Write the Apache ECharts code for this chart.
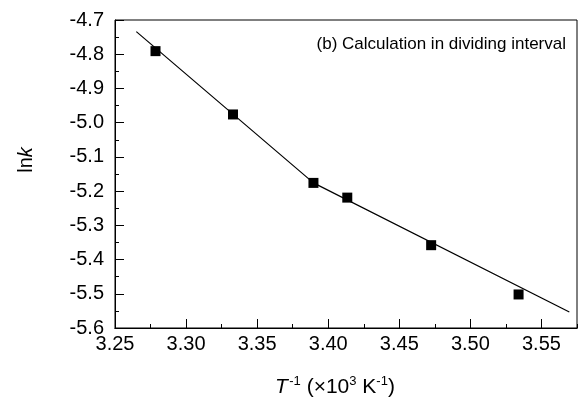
<!DOCTYPE html>
<html>
<head>
<meta charset="utf-8">
<script src="https://cdn.jsdelivr.net/npm/echarts@6/dist/echarts.min.js"></script>
<style>
  html, body { margin: 0; padding: 0; background: #fff; }
  #chart { width: 581px; height: 403px; }
</style>
</head>
<body>
<div id="chart"></div>
<script>
// measured points: 1/T (x10^3 K^-1) vs ln k
const invT = [3.2785, 3.333, 3.3896, 3.4134, 3.4724, 3.5339]
const lnK = [-4.791, -4.976, -5.176, -5.219, -5.358, -5.502]
// fitted lines in the two intervals (break at the 3rd point)
const fitX = [3.265, 3.3896, 3.5696]
const fitY = [-4.734, -5.176, -5.553]

const font = 'Liberation Sans, Arial, sans-serif'
const chart = echarts.init(document.getElementById('chart'))

const baseX = {
  type: 'value',
  min: 3.25,
  max: 3.575,
  position: 'bottom',
  axisLine: { lineStyle: { color: '#000', width: 1 } },
  splitLine: { show: false }
}

chart.setOption({
  animation: false,
  grid: {
    left: 115, right: 4, top: 20, bottom: 75,
    show: true, borderColor: '#000', borderWidth: 1
  },
  xAxis: [
    Object.assign({}, baseX, {
      interval: 0.05,
      axisTick: { inside: true, length: 9, lineStyle: { color: '#000' } },
      axisLabel: {
        color: '#000', fontFamily: font, fontSize: 20, margin: 6,
        showMaxLabel: false,
        formatter: v => v.toFixed(2)
      },
      name: '{i|T}{g| }{s|-1}{n| (×10}{s|3}{n| K}{s|-1}{n|)}',
      nameLocation: 'middle',
      nameGap: 47,
      nameTextStyle: {
        padding: [0, 22, 0, 0],
        rich: {
          i: { fontFamily: font, fontSize: 21, fontStyle: 'italic', color: '#000', lineHeight: 24 },
          n: { fontFamily: font, fontSize: 21, color: '#000', lineHeight: 24 },
          g: { fontFamily: font, fontSize: 5, lineHeight: 24 },
          s: { fontFamily: font, fontSize: 13, color: '#000', lineHeight: 14, verticalAlign: 'top' }
        }
      }
    }),
    // minor ticks only
    Object.assign({}, baseX, {
      interval: 0.025,
      axisTick: { inside: true, length: 4, lineStyle: { color: '#000' } },
      axisLabel: { show: false }
    })
  ],
  yAxis: {
    type: 'value',
    min: -5.6,
    max: -4.7,
    interval: 0.1,
    axisLine: { show: true, lineStyle: { color: '#000', width: 1 } },
    axisTick: { inside: true, length: 9, lineStyle: { color: '#000' } },
    minorTick: { show: true, splitNumber: 2, length: 4, lineStyle: { color: '#000' } },
    splitLine: { show: false },
    axisLabel: {
      color: '#000', fontFamily: font, fontSize: 20, margin: 11,
      formatter: v => v.toFixed(1)
    },
    name: '{n|ln}{i|k}',
    nameLocation: 'middle',
    nameRotate: 90,
    nameGap: 79,
    nameTextStyle: {
      padding: [0, 0, 0, 28],
      rich: {
        n: { fontFamily: font, fontSize: 20, color: '#000' },
        i: { fontFamily: font, fontSize: 20, fontStyle: 'italic', color: '#000' }
      }
    }
  },
  graphic: [{
    type: 'text',
    right: 15,
    top: 36,
    style: {
      text: '(b) Calculation in dividing interval',
      font: '17px ' + font,
      fill: '#000'
    }
  }],
  series: [
    {
      type: 'line',
      data: fitX.map((x, i) => [x, fitY[i]]),
      showSymbol: false,
      symbol: 'none',
      lineStyle: { color: '#000', width: 1.2 },
      z: 2
    },
    {
      type: 'scatter',
      data: invT.map((x, i) => [x, lnK[i]]),
      symbol: 'rect',
      symbolSize: 10,
      itemStyle: { color: '#000', opacity: 1 },
      z: 3
    }
  ]
})
</script>
</body>
</html>
